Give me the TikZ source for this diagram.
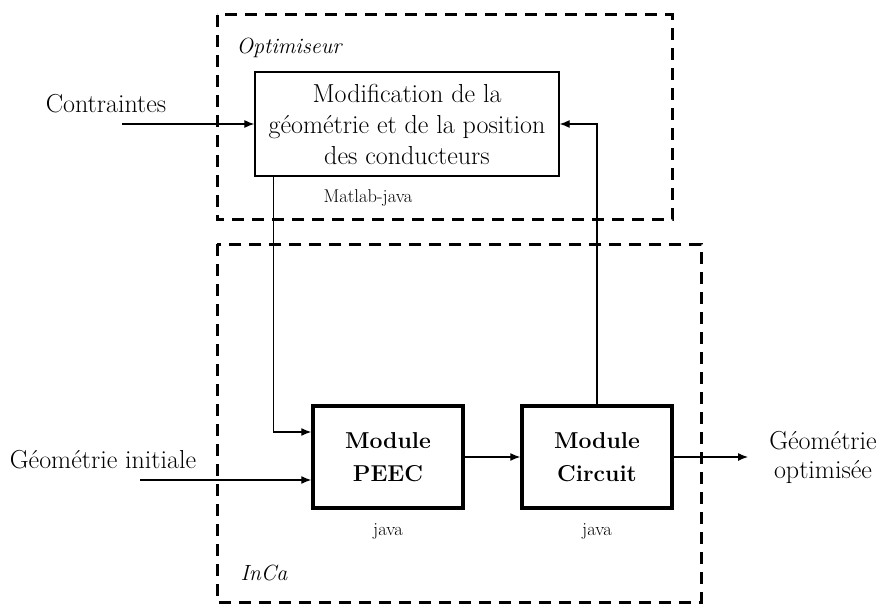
\documentclass[tikz,border=0pt]{standalone}
\usepackage{fontspec}
\usepackage{tikz}
\usetikzlibrary{calc,arrows.meta,positioning}
\tikzset{
  ar/.style={-{Latex[length=10pt,width=8pt]},line width=1.2pt},
  box/.style={draw,line width=1.3pt,align=center,minimum width=304pt,minimum height=104pt,inner sep=0pt,font=\fontsize{26}{31}\selectfont},
  modbox/.style={draw,line width=3.5pt,align=center,minimum width=150pt,minimum height=102pt,inner sep=0pt,font=\fontsize{23}{33}\selectfont\bfseries},
  dbox/.style={line width=3pt,dash pattern=on 12pt off 8pt},
  txt/.style={font=\fontsize{26}{29}\selectfont,align=center,inner sep=0pt},
  small/.style={font=\fontsize{18.5}{20}\selectfont,inner sep=0pt},
  zone/.style={font=\fontsize{22}{24}\selectfont\itshape,inner sep=0pt}
}

\begin{document}
\begin{tikzpicture}[x=1pt,y=-1pt]
\useasboundingbox (0,0) rectangle (878,604);
% zones
\draw[dbox] (217,15) rectangle (672,220);
\draw[dbox] (217,244) rectangle (701,602);
\node[zone] (opt) at (289,48) {Optimiseur};
\node[zone] (inca) at (264,573) {InCa};
% blocs
\node[box] (modif) at (407,124) {Modification de la\\g\'eom\'etrie et de la position\\des conducteurs};
\node[small] (mj) at (368,198) {Matlab-java};
\node[modbox] (peec) at (388,457) {Module\\PEEC};
\node[modbox] (circ) at (597,457) {Module\\Circuit};
\node[small] (jp) at (peec.south) [yshift=-22pt] {java};
\node[small] (jc) at (circ.south) [yshift=-22pt] {java};
% entrees / sorties
\node[txt] (contr) at (106,104) {Contraintes};
\node[txt] (ginit) at (103,460) {G\'eom\'etrie initiale};
\node[txt] (gopt) at (823,457) {G\'eom\'etrie\\optimis\'ee};
\coordinate (cin) at (122,124);
\coordinate (gin) at (140,480);
\coordinate (gout) at (748,457);
% liaisons
\draw[ar] (cin) -- (modif.west);
\draw[ar] ($(modif.south west)+(19,0)$) |- ($(peec.west)+(0,-25)$);
\draw[ar] (gin) -- (gin -| peec.west);
\draw[ar] (peec) -- (circ);
\draw[ar] (circ.north) |- (modif.east);
\draw[ar] (circ.east) -- (gout);
\end{tikzpicture}
\end{document}
